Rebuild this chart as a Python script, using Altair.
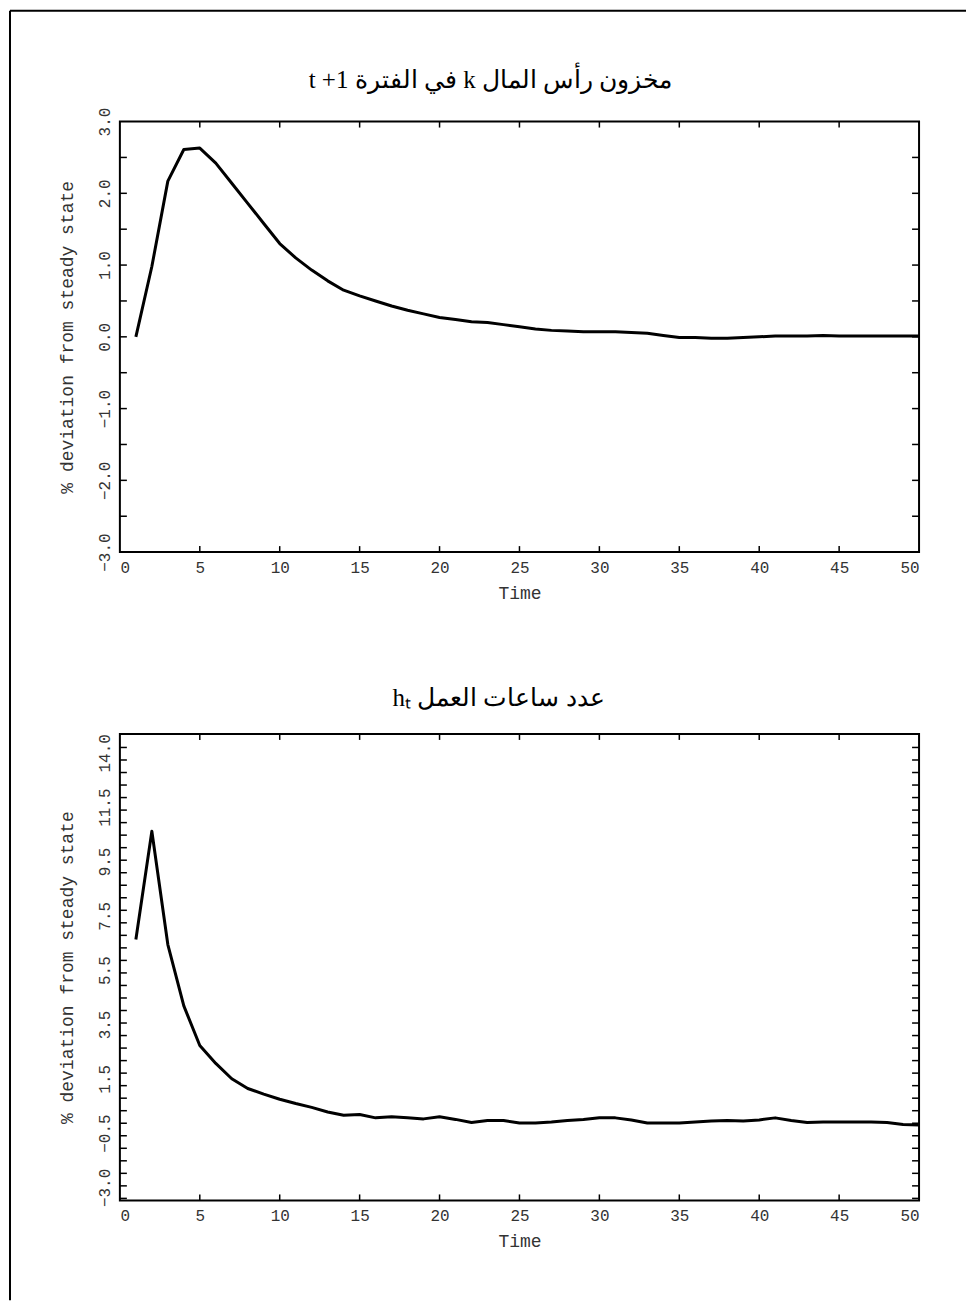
import altair as alt
import pandas as pd

# ---------------- data ----------------
time = list(range(1, 51))

capital_k = [0.00, 0.98, 2.17, 2.61, 2.63, 2.42, 2.14, 1.86, 1.58, 1.30,
             1.10, 0.93, 0.78, 0.65, 0.57, 0.50, 0.43, 0.37, 0.32, 0.27,
             0.24, 0.21, 0.20, 0.17, 0.14, 0.11, 0.09, 0.08, 0.07, 0.07,
             0.07, 0.06, 0.05, 0.02, -0.01, -0.01, -0.02, -0.02, -0.01, 0.00,
             0.01, 0.01, 0.01, 0.02, 0.01, 0.01, 0.01, 0.01, 0.01, 0.01]

hours_h = [6.70, 10.93, 6.50, 4.10, 2.55, 1.85, 1.25, 0.87, 0.65, 0.45,
           0.28, 0.13, -0.05, -0.18, -0.15, -0.28, -0.24, -0.28, -0.32, -0.24,
           -0.34, -0.46, -0.38, -0.38, -0.48, -0.48, -0.44, -0.38, -0.34, -0.28,
           -0.28, -0.36, -0.48, -0.48, -0.48, -0.44, -0.40, -0.38, -0.40, -0.36,
           -0.28, -0.38, -0.46, -0.44, -0.44, -0.44, -0.44, -0.46, -0.54, -0.56]

x_tick_values = [0, 5, 10, 15, 20, 25, 30, 35, 40, 45, 50]
x_inner_ticks = [5, 10, 15, 20, 25, 30, 35, 40, 45]

k_label_values = [-3, -2, -1, 0, 1, 2, 3]
k_labels = ["\u22123.0", "\u22122.0", "\u22121.0", "0.0", "1.0", "2.0", "3.0"]
k_minor_ticks = [-2.5, -2.0, -1.5, -1.0, -0.5, 0.0, 0.5, 1.0, 1.5, 2.0, 2.5]

h_label_values = [-3.0, -0.875, 1.25, 3.375, 5.5, 7.625, 9.75, 11.875, 14.0]
h_labels = ["\u22123.0", "\u22120.5", "1.5", "3.5", "5.5", "7.5", "9.5", "11.5", "14.0"]
h_minor_ticks = [round(14.21 - 0.49 * i, 2) for i in range(37)]

title_k = "\u202B" + "مخزون رأس المال k في الفترة " + "\u2066t +1\u2069" + "\u202C"
title_h = "\u202B" + "عدد ساعات العمل h\u209C" + "\u202C"
y_title = "% deviation from steady state"
x_title = "Time"

# ---------------- layout / style ----------------
W = 800
H1 = 431
H2 = 467
FONT = "Liberation Mono"
TXT = "#333333"


def label_expr(values, labels):
    expr = "''"
    for v, lab in reversed(list(zip(values, labels))):
        expr = f"(abs(datum.value - ({v})) < 0.01 ? '{lab}' : {expr})"
    return expr


def panel(values, ydomain, lab_vals, labs, minor, H, title, tdx, tdy, frame=False):
    df = pd.DataFrame({"t": time, "v": values})
    xs = alt.Scale(domain=[0, 50], nice=False, zero=False)
    ys = alt.Scale(domain=ydomain, nice=False, zero=False)
    xaxis = alt.Axis(
        values=x_tick_values, format="d", title=x_title, ticks=False, domain=False, grid=False,
        labelFont=FONT, labelFontSize=16, labelColor=TXT, labelPadding=7,
        titleFont=FONT, titleFontSize=18, titleFontWeight="normal", titleColor=TXT,
        titlePadding=9)
    yaxis = alt.Axis(
        values=lab_vals, labelExpr=label_expr(lab_vals, labs), title=y_title,
        ticks=False, domain=False, grid=False,
        labelAngle=270, labelAlign="center", labelBaseline="bottom",
        labelFont=FONT, labelFontSize=16, labelColor=TXT, labelPadding=7,
        titleFont=FONT, titleFontSize=18, titleFontWeight="normal", titleColor=TXT,
        titlePadding=20)

    line = alt.Chart(df).mark_line(color="black", strokeWidth=3, strokeJoin="round").encode(
        x=alt.X("t:Q", scale=xs, axis=xaxis),
        y=alt.Y("v:Q", scale=ys, axis=yaxis),
    )

    ydf = pd.DataFrame({"v": minor})
    ytl = alt.Chart(ydf).mark_rule(color="black", strokeWidth=1.5).encode(
        y=alt.Y("v:Q", scale=ys, axis=yaxis), x=alt.value(0), x2=alt.value(7))
    ytr = alt.Chart(ydf).mark_rule(color="black", strokeWidth=1.5).encode(
        y=alt.Y("v:Q", scale=ys, axis=yaxis), x=alt.value(W - 7), x2=alt.value(W))

    xdf = pd.DataFrame({"t": x_inner_ticks})
    xtb = alt.Chart(xdf).mark_rule(color="black", strokeWidth=1.5).encode(
        x=alt.X("t:Q", scale=xs, axis=xaxis), y=alt.value(H - 6), y2=alt.value(H))
    xtt = alt.Chart(xdf).mark_rule(color="black", strokeWidth=1.5).encode(
        x=alt.X("t:Q", scale=xs, axis=xaxis), y=alt.value(0), y2=alt.value(6))

    tdf = pd.DataFrame({"label": [title]})
    ttl = alt.Chart(tdf).mark_text(
        font="Liberation Serif", fontSize=25, align="center", baseline="middle", color="black"
    ).encode(text="label:N", x=alt.value(W / 2 + tdx), y=alt.value(tdy))

    layers = [line, ytl, ytr, xtb, xtt, ttl]
    if frame:
        fdf = pd.DataFrame({"a": [0]})
        top_line = alt.Chart(fdf).mark_rule(color="black", strokeWidth=2).encode(
            x=alt.value(-110), x2=alt.value(W + 47), y=alt.value(-111))
        left_line = alt.Chart(fdf).mark_rule(color="black", strokeWidth=2).encode(
            x=alt.value(-110), y=alt.value(-111), y2=alt.value(1180))
        layers += [top_line, left_line]
    return alt.layer(*layers).properties(width=W, height=H)


top = panel(capital_k, [-3, 3], k_label_values, k_labels, k_minor_ticks, H1,
            title_k, -29, -42, frame=True)
bottom = panel(hours_h, [-3.51, 14.74], h_label_values, h_labels, h_minor_ticks, H2,
               title_h, -21, -36)

chart = alt.vconcat(top, bottom, spacing=182, bounds="flush").properties(
    padding=0, background="white"
).configure_view(stroke="black", strokeWidth=2)

chart.save("out.html", embed_options={"renderer": "svg", "actions": False})
